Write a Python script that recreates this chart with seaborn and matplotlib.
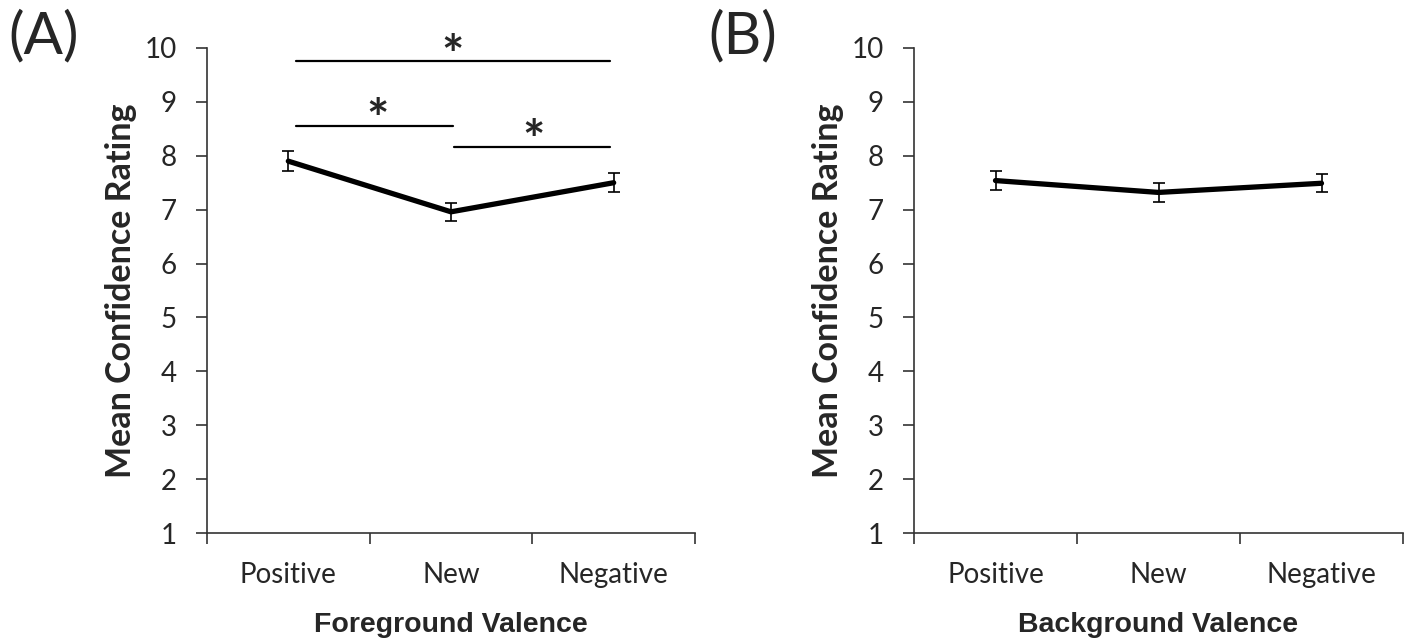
import matplotlib
matplotlib.use("Agg")
import matplotlib.pyplot as plt
import seaborn as sns
import pandas as pd

# values
categories = ["Positive", "New", "Negative"]
foreground_mean = [7.90, 6.96, 7.50]
foreground_se = [0.18, 0.17, 0.18]
background_mean = [7.54, 7.32, 7.49]
background_se = [0.18, 0.18, 0.17]

# significance brackets for panel A: (start, end, height, star x)
sig_lines = [(0.05, 1.98, 9.75, 1.01),
             (0.05, 1.01, 8.56, 0.55),
             (1.02, 1.98, 8.16, 1.51)]

sns.set_style("ticks")
plt.rcParams['font.family'] = ['Lato', 'DejaVu Sans']

fig = plt.figure(figsize=(14.08, 6.38), dpi=100)
ax_a = fig.add_axes([207 / 1408, 1 - 533 / 638, 488 / 1408, 485 / 638])
ax_b = fig.add_axes([914 / 1408, 1 - 533 / 638, 489 / 1408, 485 / 638])


def draw_panel(ax, means, errs, xlabel):
    df = pd.DataFrame({'pos': range(len(categories)), 'mean': means})
    sns.lineplot(data=df, x='pos', y='mean', ax=ax, color='black', linewidth=3.8)
    ax.errorbar(df['pos'], df['mean'], yerr=errs, fmt='none', ecolor='black',
                elinewidth=1.2, capsize=4.5, capthick=1.2)
    ax.set_xlim(-0.5, 2.5)
    ax.set_ylim(1, 10)
    ax.set_yticks(range(1, 11))
    ax.set_xticks([-0.5, 0.5, 1.5, 2.5])
    ax.set_xticklabels([])
    ax.set_xticks([0, 1, 2], minor=True)
    ax.set_xticklabels(categories, minor=True)
    ax.tick_params(axis='x', which='minor', length=0, pad=21, labelsize=20)
    ax.tick_params(axis='x', which='major', length=8, width=1.2, color='#333333')
    ax.tick_params(axis='y', length=8, width=1.2, color='#333333', pad=14, labelsize=20)
    for side in ['top', 'right']:
        ax.spines[side].set_visible(False)
    for side in ['left', 'bottom']:
        ax.spines[side].set_color('#333333')
        ax.spines[side].set_linewidth(1.2)
    ax.set_ylabel('Mean Confidence Rating', fontsize=24.5, fontweight='bold', labelpad=5)
    ax.set_xlabel(xlabel, fontsize=20.5, fontweight='bold',
                  family=['Liberation Sans', 'DejaVu Sans'], labelpad=17.5)
    ax.set_facecolor('white')


draw_panel(ax_a, foreground_mean, foreground_se, 'Foreground Valence')
draw_panel(ax_b, background_mean, background_se, 'Background Valence')

for x0, x1, y, sx in sig_lines:
    ax_a.plot([x0, x1], [y, y], color='black', linewidth=1.6, clip_on=False)
    ax_a.text(sx, y + 0.06, '*', fontsize=38, fontweight='bold',
              ha='center', va='center', clip_on=False)

fig.text(8 / 1408, 1 - 37 / 638, '(A)', fontsize=42, va='center', ha='left')
fig.text(708 / 1408, 1 - 37 / 638, '(B)', fontsize=42, va='center', ha='left')

fig.savefig('out.png', dpi=100, facecolor='white')
